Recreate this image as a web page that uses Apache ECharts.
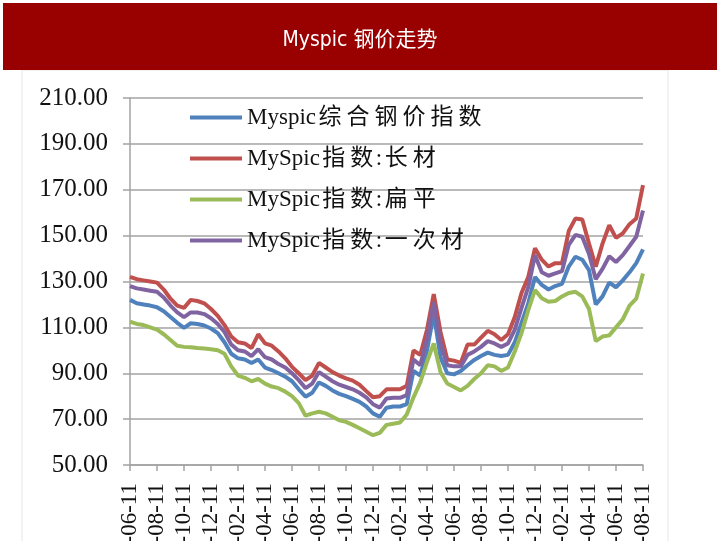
<!DOCTYPE html>
<html>
<head>
<meta charset="utf-8">
<title>Myspic 钢价走势</title>
<script src="https://cdn.jsdelivr.net/npm/echarts@6/dist/echarts.min.js"></script>
<style>
  html, body { margin: 0; padding: 0; background: #fff; }
  #chart { width: 720px; height: 541px; }
</style>
</head>
<body>
<div id="chart"></div>
<script>
// 日期（半月一个点）
var dates = [
  '2014-06-11', '2014-06-26', '2014-07-11', '2014-07-26', '2014-08-11', '2014-08-26',
  '2014-09-11', '2014-09-26', '2014-10-11', '2014-10-26', '2014-11-11', '2014-11-26',
  '2014-12-11', '2014-12-26',
  '2015-01-11', '2015-01-26', '2015-02-11', '2015-02-26', '2015-03-11', '2015-03-26',
  '2015-04-11', '2015-04-26', '2015-05-11', '2015-05-26', '2015-06-11', '2015-06-26',
  '2015-07-11', '2015-07-26', '2015-08-11', '2015-08-26', '2015-09-11', '2015-09-26',
  '2015-10-11', '2015-10-26', '2015-11-11', '2015-11-26', '2015-12-11', '2015-12-26',
  '2016-01-11', '2016-01-26', '2016-02-11', '2016-02-26', '2016-03-11', '2016-03-26',
  '2016-04-11', '2016-04-26', '2016-05-11', '2016-05-26', '2016-06-11', '2016-06-26',
  '2016-07-11', '2016-07-26', '2016-08-11', '2016-08-26', '2016-09-11', '2016-09-26',
  '2016-10-11', '2016-10-26', '2016-11-11', '2016-11-26', '2016-12-11', '2016-12-26',
  '2017-01-11', '2017-01-26', '2017-02-11', '2017-02-26', '2017-03-11', '2017-03-26',
  '2017-04-11', '2017-04-26', '2017-05-11', '2017-05-26', '2017-06-11', '2017-06-26',
  '2017-07-11', '2017-07-26', '2017-08-11'
]

var seriesNames = ['Myspic综合钢价指数', 'MySpic指数:长材', 'MySpic指数:扁平', 'MySpic指数:一次材']

// 综合
var composite = [
  122, 120.5, 120, 119.5, 118.8, 117, 114.5, 112, 109.8, 111.8, 111.5, 110.8,
  109.5, 107.5, 103.5, 98.5, 96.5, 96, 94.5, 96, 92.5, 91.4, 90, 88.5,
  86.5, 83, 79.8, 81.5, 86, 84.5, 82.5, 81, 80, 78.8, 77.5, 75.5,
  72.5, 71, 75, 75.5, 75.5, 76.5, 91, 89, 100, 116, 97, 90,
  89.5, 91, 93.5, 95.8, 97.5, 99, 98, 97.5, 98, 103.5, 112, 120.5,
  132, 128.5, 126.5, 128, 129, 136.5, 140.8, 139.5, 135, 120, 123.5, 129.5,
  127.5, 130.5, 134, 138, 144
]
// 长材
var longSteel = [
  132, 131, 130.5, 130, 129.5, 126.5, 122.5, 119.5, 118.5, 122, 121.5, 120.5,
  118, 115, 111, 106, 103.5, 103, 101, 107, 103, 102, 99.5, 96.5,
  92.8, 90, 87, 89, 94.5, 92.5, 90.5, 89, 87.8, 86.8, 85, 82.2,
  79.5, 80, 83, 83, 83, 84.5, 100, 98, 109, 124.5, 108, 96,
  95.5, 94.5, 102.5, 102.5, 105.5, 108.5, 107, 104.5, 107, 114.5, 125, 132,
  144.5, 139.5, 136.5, 138, 138, 152, 157.5, 157, 146.5, 136.5, 146.5, 154.5,
  149, 151, 155, 157.5, 172
]
// 扁平
var flatSteel = [
  112.5, 111.5, 111, 110, 109, 107, 104.5, 102, 101.5, 101.3, 101, 100.8,
  100.5, 100, 98.5, 93, 89, 88, 86.5, 87.5, 85.5, 84.2, 83.5, 82,
  80, 77, 71.5, 72.5, 73.2, 72.5, 71, 69.5, 68.8, 67.5, 66, 64.5,
  63, 64, 67.5, 68, 68.5, 72, 79.5, 86, 95, 103, 90.5, 85.5,
  84, 82.5, 84.5, 87.5, 90, 93.5, 93, 91, 92.5, 99.5, 107.5, 117.5,
  126.3, 122.7, 121.2, 121.5, 123.5, 125, 125.5, 123.5, 118, 104, 106, 106.5,
  110, 113.5, 119.5, 122.5, 133.5
]
// 一次材
var primarySteel = [
  128, 127, 126.5, 126, 125.5, 123, 119.5, 116.5, 114.5, 116.5, 116.5, 115.8,
  114, 111.5, 108, 102.5, 100, 99.5, 97.5, 100.5, 97, 96, 94, 92.5,
  90, 87, 83.5, 85.5, 90.5, 88.5, 86.5, 85, 84, 83, 81.5, 79.5,
  76.5, 75, 79, 79.3, 79.3, 80.5, 96, 93.5, 105, 121, 103, 93.5,
  93, 93, 98, 99.5, 101.5, 104, 103, 101.5, 103, 109, 118.5, 127.5,
  141.5, 134, 132.5, 133.5, 134.5, 146, 150.3, 149.5, 142, 131, 135.5, 141,
  138.5, 141.5, 145.5, 149.5, 161
]

var colors = ['#4F81BD', '#C0504D', '#9BBB59', '#8064A2']
var values = [composite, longSteel, flatSteel, primarySteel]

var serif = '"Liberation Serif", "Times New Roman", "Noto Sans CJK SC", serif'
var gridColor = '#a3a3a3'

var myChart = echarts.init(document.getElementById('chart'))

myChart.setOption({
  animation: false,
  color: colors,
  title: {
    text: 'Myspic 钢价走势',
    left: 'center',
    top: 25,
    textStyle: {
      color: '#ffffff',
      fontSize: 21,
      fontWeight: 'normal',
      fontFamily: '"Liberation Sans Narrow", "DejaVu Sans Condensed", "Noto Sans CJK SC", sans-serif'
    }
  },
  // 顶部红色横幅
  graphic: [
    {
      type: 'rect',
      z: -10,
      shape: { x: 22, y: 70, width: 646, height: 480 },
      style: { fill: '#ffffff', stroke: '#e6e6e6', lineWidth: 1 }
    },
    {
      type: 'rect',
      z: -5,
      shape: { x: 3, y: 3, width: 714, height: 67 },
      style: { fill: '#990000' }
    }
  ],
  legend: {
    orient: 'vertical',
    left: 185,
    top: 101,
    icon: 'rect',
    itemWidth: 52,
    itemHeight: 4,
    itemGap: 18,
    // 中文字符稍微拉开一点
    formatter: function(name) {
      return name.replace(/([\u4e00-\u9fa5])/g, '{c|$1}')
    },
    textStyle: {
      fontFamily: serif,
      fontSize: 23,
      lineHeight: 22,
      color: '#111',
      rich: {
        c: {
          fontFamily: serif,
          fontSize: 23,
          lineHeight: 22,
          color: '#111',
          padding: [0, 2.5, 0, 2.5]
        }
      }
    },
    data: seriesNames
  },
  grid: {
    left: 130,
    right: 77,
    top: 98,
    bottom: 76,
    outerBoundsMode: 'none'
  },
  xAxis: {
    type: 'category',
    boundaryGap: false,
    data: dates,
    axisLine: { lineStyle: { color: gridColor, width: 1.5 } },
    axisTick: {
      interval: 3,
      length: 6,
      lineStyle: { color: gridColor, width: 1.5 }
    },
    axisLabel: {
      interval: 3,
      rotate: 90,
      margin: 18,
      fontFamily: serif,
      fontSize: 23,
      color: '#111'
    }
  },
  yAxis: {
    type: 'value',
    min: 50,
    max: 210,
    interval: 20,
    axisLine: { show: true, lineStyle: { color: gridColor, width: 1.5 } },
    axisTick: { show: true, length: 7, lineStyle: { color: gridColor, width: 1.5 } },
    axisLabel: {
      margin: 22,
      fontFamily: serif,
      fontSize: 25,
      color: '#111',
      formatter: function(v) {
        return v.toFixed(2)
      }
    },
    splitLine: { lineStyle: { color: gridColor, width: 1.5 } }
  },
  series: seriesNames.map(function(name, i) {
    return {
      name: name,
      type: 'line',
      data: values[i],
      showSymbol: false,
      lineStyle: { width: 4, color: colors[i] },
      itemStyle: { color: colors[i] }
    }
  })
})
</script>
</body>
</html>
